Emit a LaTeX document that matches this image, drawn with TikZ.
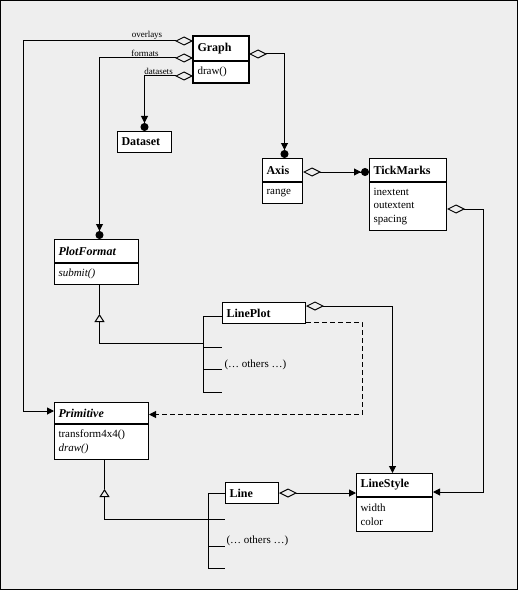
\documentclass[tikz,border=0pt]{standalone}
\usepackage{fontspec}
\setmainfont{Liberation Serif}
\usetikzlibrary{arrows.meta,positioning,calc}
\definecolor{paneGray}{RGB}{238,238,238}

\begin{document}
\begin{tikzpicture}[x=1pt, y=-1pt, line width=1pt,
    head/.style 2 args={draw, fill=white, anchor=north west, inner xsep=4pt, inner ysep=0pt,
        minimum width=#1pt, minimum height=#2pt, text width=#1pt-8pt, align=left,
        font=\fontsize{12}{14}\selectfont\bfseries},
    body/.style 2 args={draw, fill=white, inner xsep=4pt, inner ysep=0pt,
        minimum width=#1pt, minimum height=#2pt, text width=#1pt-8pt, align=left,
        font=\fontsize{11}{13.5}\selectfont},
    abstract/.style={font=\fontsize{12}{14}\selectfont\bfseries\itshape},
    lbl/.style={inner sep=0pt, font=\fontsize{9}{10}\selectfont},
    note/.style={inner sep=0pt, anchor=west, font=\fontsize{11}{13}\selectfont},
    agg/.tip={Diamond[open,length=18pt,width=9pt]},
    one/.tip={Triangle[length=7pt,width=7pt]},
    many/.tip={Triangle[length=7pt,width=7pt]Circle[length=8pt]},
    isa/.tip={Triangle[open,length=8pt,width=10pt]}]
    % Frame
    \useasboundingbox (0,0) rectangle (519,591);
    \draw[fill=paneGray] (0.5,0.5) rectangle (517.5,589.5);

    % Classes
    \node[head={55}{24}] (graph) at (193,36) {Graph};
    \node[body={55}{21}, below=0pt of graph] (graph_ops) {draw()};
    \draw[line width=2pt] (graph.north west) rectangle (graph_ops.south east);
    \node[head={54}{21}] (dataset) at (117,131) {Dataset};
    \node[head={40}{23}] (axis) at (262,158) {Axis};
    \node[body={40}{21}, below=0pt of axis] (axis_attr) {range};
    \node[head={77}{23}] (tick) at (369,158) {TickMarks};
    \node[body={77}{48}, below=0pt of tick] (tick_attr) {inextent\\outextent\\spacing};
    \node[head={84}{23}, abstract] (pf) at (54,239) {PlotFormat};
    \node[body={84}{21}, below=0pt of pf] (pf_ops) {\textit{submit()}};
    \node[head={83}{21}] (lineplot) at (222,302) {LinePlot};
    \node[head={94}{21}, abstract] (prim) at (54,402) {Primitive};
    \node[body={94}{35}, below=0pt of prim] (prim_ops) {transform4x4()\\\textit{draw()}};
    \node[head={53}{21}] (line) at (225,482) {Line};
    \node[head={76}{23}] (lstyle) at (356,473) {LineStyle};
    \node[body={76}{34}, below=0pt of lstyle] (lstyle_attr) {width\\color};

    % Aggregations
    \draw[agg-one] ($(graph.north west)+(0,5)$) -- ++(-170,0) |- ($(prim.west)+(0,-2)$);
    \draw[agg-many] ($(graph.north west)+(0,22)$) -| ($(pf.north)+(3,0)$);
    \draw[agg-many] ($(graph.north west)+(0,40)$) -| (dataset.north);
    \draw[agg-many] ($(graph.north east)+(0,18)$) -| ($(axis.north)+(2,0)$);
    \draw[agg-many] ($(axis.east)+(0,2)$) -- ($(tick.west)+(0,2)$);
    \draw[agg-one] ($(tick_attr.north east)+(0,27)$) -- ++(36,0) |- ($(lstyle.south east)+(0,-5)$);
    \draw[agg-one] ($(lineplot.north east)+(0,4)$) -| ($(lstyle.north)+(-2,0)$);
    \draw[agg-one] (line.east) -- (line.east -| lstyle.west);
    \draw[-one, dash pattern=on 5pt off 3pt] ($(lineplot.south east)+(0,-2)$) -- ++(56,0) |- ($(prim.east)+(0,1.5)$);
    \node[lbl] (lbl_overlays) at (147,35) {overlays};
    \node[lbl] (lbl_formats) at (145,53) {formats};
    \node[lbl] (lbl_datasets) at (158.5,71) {datasets};

    % Subclasses of PlotFormat
    \coordinate (pf_bus) at (203,343);
    \coordinate (pf_gen) at ($(pf_ops.south)+(3,0)$);
    \draw (pf_gen) -- ++(0,29);
    \draw[isa-] ($(pf_gen)+(0,29)$) -- (pf_gen |- pf_bus) -- (pf_bus);
    \draw ($(lineplot.west)+(0,3)$) -| ($(pf_bus)+(0,49)$);
    \foreach \dy in {4,26,49}
        \draw ($(pf_bus)+(0,\dy)$) -- ++(19,0);
    \node[note] (others_plot) at ($(pf_bus)+(21,22)$) {(… others …)};

    % Subclasses of Primitive
    \coordinate (prim_bus) at (208,519);
    \coordinate (prim_gen) at ($(prim_ops.south)+(3,0)$);
    \draw (prim_gen) -- ++(0,29);
    \draw[isa-] ($(prim_gen)+(0,29)$) -- (prim_gen |- prim_bus) -- (prim_bus);
    \draw (line.west) -| ($(prim_bus)+(0,49)$);
    \foreach \dy in {0,27,49}
        \draw ($(prim_bus)+(0,\dy)$) -- ++(17,0);
    \node[note] (others_prim) at ($(prim_bus)+(18,22)$) {(… others …)};
\end{tikzpicture}
\end{document}
